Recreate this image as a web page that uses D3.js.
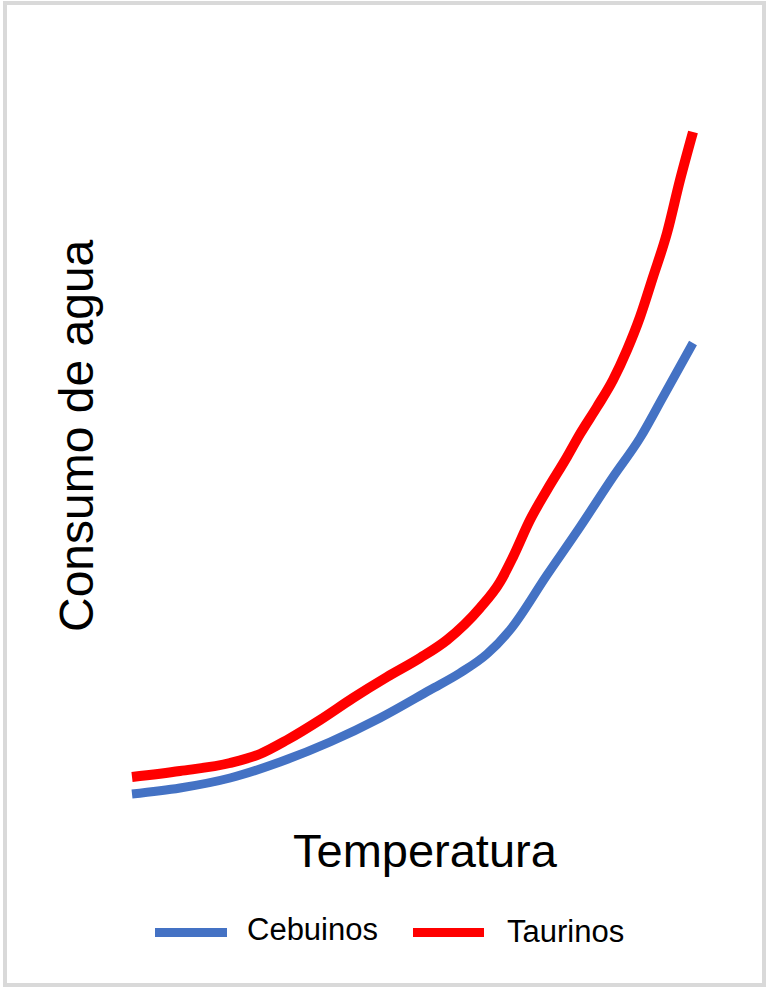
<!DOCTYPE html>
<html>
<head>
<meta charset="utf-8">
<script src="https://cdn.jsdelivr.net/npm/d3@7"></script>
<style>
  html, body { margin: 0; padding: 0; background: #fff; }
  svg { display: block; }
  text { font-family: "Liberation Sans", Arial, sans-serif; fill: #000; }
</style>
</head>
<body>
<script>
// ---- Data (arbitrary units) ----
const seriesNames = ["Cebuinos", "Taurinos"];
const seriesColors = ["#4472C4", "#FF0000"];

const cebuinosTemp = [0, 4.8, 9.8, 14.8, 19.8, 24.8, 29.8, 32.8, 35.5, 37.8, 41.5, 44.8, 48.1, 50.8, 53.1, 56.1];
const cebuinosAgua = [0.6, 1.2, 2.2, 3.8, 5.8, 8.2, 11.0, 12.7, 14.6, 17.0, 22.5, 27.3, 32.3, 36.2, 40.3, 45.7];

const taurinosTemp = [0, 4.8, 9.8, 12.8, 15.5, 18.8, 22.1, 25.5, 28.8, 31.5, 34.8, 36.8, 38.1, 39.8, 41.5, 43.5, 44.8, 46.5, 48.1, 49.5, 50.8, 52.1, 53.5, 54.8, 56.1];
const taurinosAgua = [2.3, 2.9, 3.7, 4.6, 6.0, 8.0, 10.2, 12.3, 14.2, 16.0, 19.2, 21.8, 24.3, 28.0, 31.0, 34.3, 36.6, 39.3, 42.0, 45.0, 48.3, 52.3, 56.7, 62.0, 66.8];

const xTitle = "Temperatura";
const yTitle = "Consumo de agua";

// ---- Layout ----
const W = 767, H = 987;
const svg = d3.select("body").append("svg").attr("width", W).attr("height", H);

// outer border
svg.append("rect")
  .attr("x", 5).attr("y", 3).attr("width", 759).attr("height", 982)
  .attr("fill", "#fff").attr("stroke", "#d9d9d9").attr("stroke-width", 4);

const x = d3.scaleLinear().domain([0, 56]).range([132, 692]);
const y = d3.scaleLinear().domain([0, 67]).range([800, 130]);

const series = [
  { name: seriesNames[0], color: seriesColors[0], pts: cebuinosTemp.map((t, i) => [t, cebuinosAgua[i]]), w: 9 },
  { name: seriesNames[1], color: seriesColors[1], pts: taurinosTemp.map((t, i) => [t, taurinosAgua[i]]), w: 10 }
];

const line = d3.line()
  .x(d => x(d[0])).y(d => y(d[1]))
  .curve(d3.curveMonotoneX);

svg.selectAll("path.series").data(series).join("path")
  .attr("class", "series")
  .attr("d", d => line(d.pts))
  .attr("fill", "none")
  .attr("stroke", d => d.color)
  .attr("stroke-width", d => d.w)
  .attr("stroke-linejoin", "round");

// axis titles
svg.append("text")
  .attr("x", 293).attr("y", 867)
  .style("font-size", "47px")
  .text(xTitle);

svg.append("text")
  .attr("transform", "translate(93,632) rotate(-90)")
  .attr("x", 0).attr("y", 0)
  .style("font-size", "48px")
  .text(yTitle);

// legend
const legendItems = [
  { name: seriesNames[0], color: seriesColors[0], x1: 155, x2: 227, tx: 247, ty: 940 },
  { name: seriesNames[1], color: seriesColors[1], x1: 413, x2: 484, tx: 507, ty: 942 }
];
const lg = svg.append("g");
lg.selectAll("line").data(legendItems).join("line")
  .attr("x1", d => d.x1).attr("x2", d => d.x2)
  .attr("y1", 932.5).attr("y2", 932.5)
  .attr("stroke", d => d.color).attr("stroke-width", 9);
lg.selectAll("text").data(legendItems).join("text")
  .attr("x", d => d.tx).attr("y", d => d.ty)
  .style("font-size", "31px")
  .text(d => d.name);
</script>
</body>
</html>
